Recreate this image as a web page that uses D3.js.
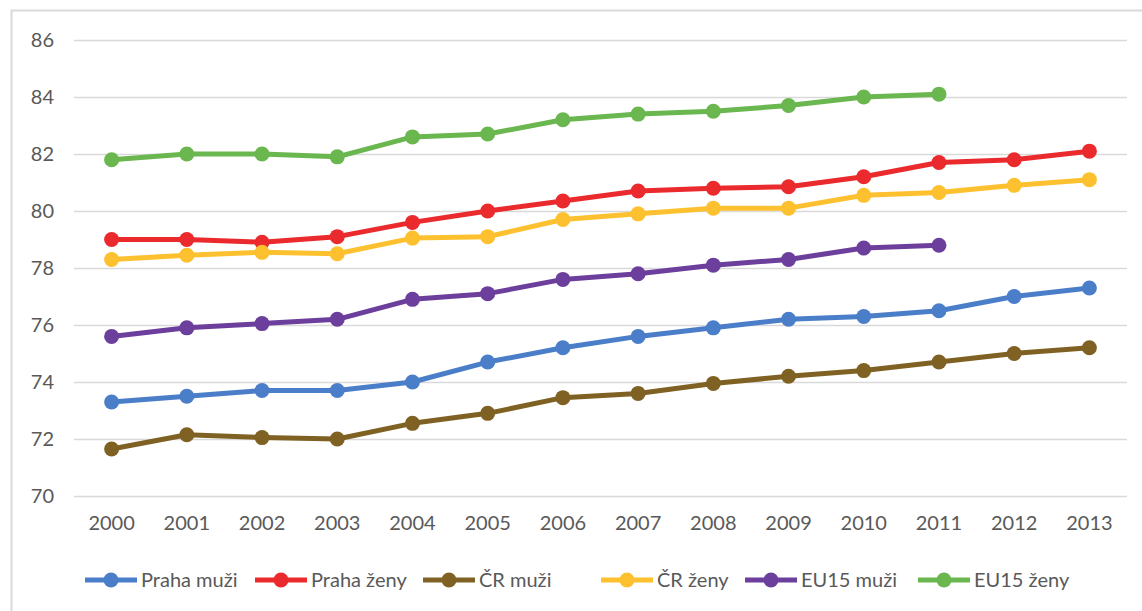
<!DOCTYPE html>
<html>
<head>
<meta charset="utf-8">
<script src="https://cdn.jsdelivr.net/npm/d3@7"></script>
<style>
  html, body { margin: 0; padding: 0; background: #fff; }
  svg { display: block; }
</style>
</head>
<body>
<svg id="chart" width="1142" height="611"></svg>
<script>
const years = ["2000","2001","2002","2003","2004","2005","2006","2007","2008","2009","2010","2011","2012","2013"];
const yTicks = [70, 72, 74, 76, 78, 80, 82, 84, 86];

const seriesNames = ["Praha muži", "Praha ženy", "ČR muži", "ČR ženy", "EU15 muži", "EU15 ženy"];
const seriesColors = ["#4a7ec8", "#ea2a2d", "#7f6223", "#fdc02f", "#6c3f9c", "#6ab64f"];

const prahaMuzi  = [73.3, 73.5, 73.7, 73.7, 74.0, 74.7, 75.2, 75.6, 75.9, 76.2, 76.3, 76.5, 77.0, 77.3];
const prahaZeny  = [79.0, 79.0, 78.9, 79.1, 79.6, 80.0, 80.35, 80.7, 80.8, 80.85, 81.2, 81.7, 81.8, 82.1];
const crMuzi     = [71.65, 72.15, 72.05, 72.0, 72.55, 72.9, 73.45, 73.6, 73.95, 74.2, 74.4, 74.7, 75.0, 75.2];
const crZeny     = [78.3, 78.45, 78.55, 78.5, 79.05, 79.1, 79.7, 79.9, 80.1, 80.1, 80.55, 80.65, 80.9, 81.1];
const eu15Muzi   = [75.6, 75.9, 76.05, 76.2, 76.9, 77.1, 77.6, 77.8, 78.1, 78.3, 78.7, 78.8, null, null];
const eu15Zeny   = [81.8, 82.0, 82.0, 81.9, 82.6, 82.7, 83.2, 83.4, 83.5, 83.7, 84.0, 84.1, null, null];

const seriesValues = [prahaMuzi, prahaZeny, crMuzi, crZeny, eu15Muzi, eu15Zeny];

const svg = d3.select("#chart");
const fontFamily = "Lato, 'Open Sans', 'Noto Sans', sans-serif";
const textColor = "#595959";

// frame
svg.append("rect")
  .attr("x", 11.5).attr("y", 10.5)
  .attr("width", 1150).attr("height", 620)
  .attr("fill", "#fff")
  .attr("stroke", "#d9d9d9").attr("stroke-width", 2);

const plot = { left: 74, right: 1127, top: 40, bottom: 496 };

const x = d3.scaleBand().domain(years).range([plot.left, plot.right]).padding(0);
const y = d3.scaleLinear().domain([70, 86]).range([plot.bottom, plot.top]);

// gridlines
svg.append("g")
  .selectAll("line")
  .data(yTicks)
  .join("line")
  .attr("x1", plot.left).attr("x2", plot.right)
  .attr("y1", d => Math.round(y(d)) + 0.5).attr("y2", d => Math.round(y(d)) + 0.5)
  .attr("stroke", "#d9d9d9").attr("stroke-width", 1.5);

// y axis labels
const yAxis = d3.axisLeft(y).tickValues(yTicks).tickSize(0).tickPadding(0);
const gy = svg.append("g").attr("transform", `translate(${plot.left - 20},0)`).call(yAxis);
gy.select(".domain").remove();
gy.selectAll("text")
  .attr("font-family", fontFamily).attr("font-size", 20)
  .attr("fill", textColor).attr("text-anchor", "end");

// x axis labels
const xAxis = d3.axisBottom(x).tickSize(0).tickPadding(0);
const gx = svg.append("g").attr("transform", `translate(0,${plot.bottom + 20})`).call(xAxis);
gx.select(".domain").remove();
gx.selectAll("text")
  .attr("font-family", fontFamily).attr("font-size", 20)
  .attr("fill", textColor);

// lines and markers
const line = d3.line()
  .defined(d => d.v != null)
  .x(d => x(d.year) + x.bandwidth() / 2)
  .y(d => y(d.v));

seriesValues.forEach((vals, i) => {
  const pts = years.map((yr, j) => ({ year: yr, v: vals[j] }));
  const g = svg.append("g");
  g.append("path")
    .datum(pts)
    .attr("d", line)
    .attr("fill", "none")
    .attr("stroke", seriesColors[i])
    .attr("stroke-width", 5)
    .attr("stroke-linejoin", "round");
  g.selectAll("circle")
    .data(pts.filter(d => d.v != null))
    .join("circle")
    .attr("cx", d => x(d.year) + x.bandwidth() / 2)
    .attr("cy", d => y(d.v))
    .attr("r", 7.5)
    .attr("fill", seriesColors[i]);
});

// legend
const legendY = 580;
const legendStarts = [85, 255, 423, 601, 745, 918];
seriesNames.forEach((name, i) => {
  const g = svg.append("g").attr("transform", `translate(${legendStarts[i]},${legendY})`);
  g.append("line").attr("x1", 0).attr("x2", 52).attr("y1", 0).attr("y2", 0)
    .attr("stroke", seriesColors[i]).attr("stroke-width", 5);
  g.append("circle").attr("cx", 26).attr("cy", 0).attr("r", 7.5).attr("fill", seriesColors[i]);
  g.append("text").attr("x", 56).attr("y", 0).attr("dy", "0.35em")
    .attr("font-family", fontFamily).attr("font-size", 20)
    .attr("fill", textColor).text(name);
});
</script>
</body>
</html>
